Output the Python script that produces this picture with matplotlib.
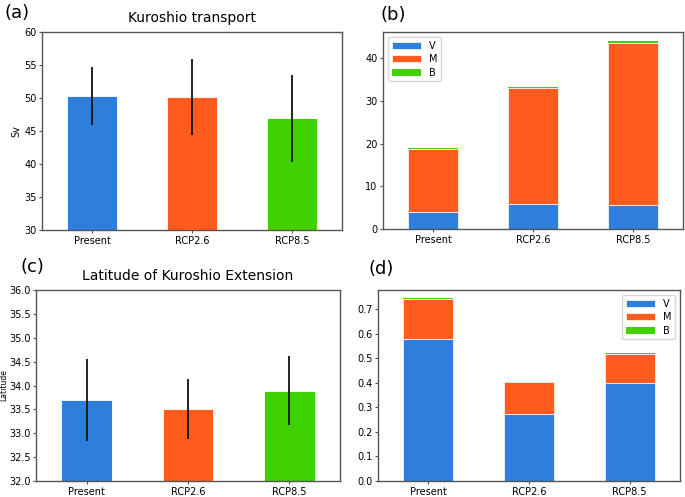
import matplotlib
matplotlib.use("Agg")
import matplotlib.pyplot as plt
import numpy as np

scenarios = ["Present", "RCP2.6", "RCP8.5"]
transport = [50.3, 50.1, 46.9]
transport_err = [4.35, 5.75, 6.6]
latitude = [33.69, 33.5, 33.89]
latitude_err = [0.86, 0.63, 0.72]

b_V = [3.9, 5.85, 5.7]
b_M = [14.85, 27.2, 37.9]
b_B = [0.15, 0.3, 0.4]

d_V = [0.578, 0.274, 0.40]
d_M = [0.161, 0.127, 0.117]
d_B = [0.004, 0.003, 0.005]

C_BLUE = "#2e7fdb"
C_ORANGE = "#ff5b1e"
C_GREEN = "#3fd100"
colors = [C_BLUE, C_ORANGE, C_GREEN]

W, H = 685, 497
fig = plt.figure(figsize=(W / 100, H / 100), dpi=100)


def ax_px(x0, y0, x1, y1):
    return fig.add_axes([x0 / W, 1 - y1 / H, (x1 - x0) / W, (y1 - y0) / H])


def style(ax):
    for s in ax.spines.values():
        s.set_color("#555555")
        s.set_linewidth(1.0)
    ax.tick_params(labelsize=7, length=2.5, width=0.8, color="#555555", pad=1.5)
    ax.set_xlim(-0.5, 2.5)


x = np.arange(len(scenarios))

# (a)
ax_a = ax_px(42, 32, 342, 230)
ax_a.bar(x, transport, width=0.5, color=colors, edgecolor="white", linewidth=0.6)
ax_a.errorbar(x, transport, yerr=transport_err, fmt="none", ecolor="#111111", elinewidth=1.3)
ax_a.set_ylim(30, 60)
ax_a.set_xticks(x)
ax_a.set_xticklabels(scenarios)
ax_a.set_ylabel("Sv", fontsize=7, labelpad=2)
ax_a.set_title("Kuroshio transport", fontsize=10, pad=7)
style(ax_a)

# (b)
ax_b = ax_px(383, 32, 683, 229)
ax_b.bar(x, b_V, width=0.5, color=C_BLUE, label="V", edgecolor="white", linewidth=0.5)
ax_b.bar(x, b_M, width=0.5, bottom=b_V, color=C_ORANGE, label="M", edgecolor="white", linewidth=0.5)
ax_b.bar(x, b_B, width=0.5, bottom=np.array(b_V) + np.array(b_M), color=C_GREEN, label="B", linewidth=0)
ax_b.set_xticks(x)
ax_b.set_xticklabels(scenarios)
ax_b.set_yticks([0, 10, 20, 30, 40])
ax_b.set_ylim(0, 46.2)
ax_b.legend(loc="upper left", fontsize=7, handlelength=3, borderpad=0.4, labelspacing=0.35)
style(ax_b)

# (c)
ax_c = ax_px(36, 290, 340, 481)
ax_c.bar(x, latitude, width=0.5, color=colors, edgecolor="white", linewidth=0.6)
ax_c.errorbar(x, latitude, yerr=latitude_err, fmt="none", ecolor="#111111", elinewidth=1.3)
ax_c.set_ylim(32, 36)
ax_c.set_yticks(np.arange(32, 36.01, 0.5))
ax_c.set_yticklabels([f"{v:.1f}" for v in np.arange(32, 36.01, 0.5)])
ax_c.set_xticks(x)
ax_c.set_xticklabels(scenarios)
ax_c.set_ylabel("Latitude", fontsize=5.5, labelpad=0.5)
ax_c.set_title("Latitude of Kuroshio Extension", fontsize=10, pad=7)
style(ax_c)

# (d)
ax_d = ax_px(378, 290, 680, 481)
ax_d.bar(x, d_V, width=0.5, color=C_BLUE, label="V", edgecolor="white", linewidth=0.5)
ax_d.bar(x, d_M, width=0.5, bottom=d_V, color=C_ORANGE, label="M", edgecolor="white", linewidth=0.5)
ax_d.bar(x, d_B, width=0.5, bottom=np.array(d_V) + np.array(d_M), color=C_GREEN, label="B", linewidth=0)
ax_d.set_xticks(x)
ax_d.set_xticklabels(scenarios)
ax_d.set_ylim(0, 0.777)
ax_d.set_yticks(np.arange(0, 0.71, 0.1))
ax_d.set_yticklabels([f"{v:.1f}" for v in np.arange(0, 0.71, 0.1)])
ax_d.legend(loc="upper right", fontsize=7, handlelength=3, borderpad=0.4, labelspacing=0.35)
style(ax_d)

fig.text(4 / W, 1 - 13 / H, "(a)", fontsize=13, va="center", ha="left")
fig.text(381 / W, 1 - 15 / H, "(b)", fontsize=13, va="center", ha="left")
fig.text(20 / W, 1 - 267 / H, "(c)", fontsize=13, va="center", ha="left")
fig.text(368 / W, 1 - 269 / H, "(d)", fontsize=13, va="center", ha="left")

fig.savefig("out.png", dpi=100)
